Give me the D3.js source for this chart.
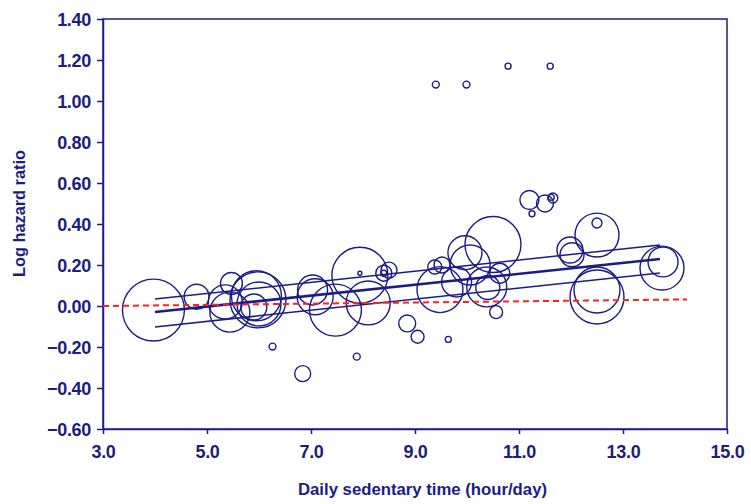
<!DOCTYPE html>
<html>
<head>
<meta charset="utf-8">
<script src="https://cdn.jsdelivr.net/npm/d3@7"></script>
<style>
  body { margin: 0; background: #fff; }
  text { font-family: "Liberation Sans", Arial, sans-serif; font-weight: bold; fill: #1c1c84; }
</style>
</head>
<body>
<svg id="chart" width="751" height="504"></svg>
<script>
// studies: sedentary hours, log HR, weight
const hours = [3.97, 4.80, 5.44, 5.47, 5.98, 5.95, 6.00, 5.90, 5.35, 6.26, 6.84, 7.03, 7.08, 7.47, 7.94, 8.10,
  8.40, 8.50, 8.40, 7.94, 7.88, 8.85, 9.05, 9.64, 10.56, 9.40, 9.99, 10.79, 11.60, 9.48, 10.50, 9.96,
  10.06, 10.38, 10.63, 10.40, 9.52, 9.80, 11.20, 11.50, 11.65, 11.62, 11.25, 12.50, 12.50, 11.98, 12.02,
  12.50, 12.50, 13.75, 13.77, 9.38];
const logHR = [-0.02, 0.045, -0.03, 0.11, 0.03, 0.05, 0.01, -0.005, 0.02, -0.198, -0.33, 0.078, 0.045, -0.02, 0.15, 0.015,
  0.16, 0.175, 0.16, 0.16, -0.247, -0.085, -0.15, -0.163, -0.03, 1.08, 1.08, 1.17, 1.17, 0.08, 0.30, 0.26,
  0.20, 0.093, 0.16, 0.09, 0.20, 0.117, 0.517, 0.50, 0.527, 0.53, 0.45, 0.346, 0.405, 0.273, 0.25,
  0.078, 0.044, 0.185, 0.215, 0.19];
const weights = [960, 156, 400, 121, 784, 625, 484, 169, 289, 12, 64, 225, 324, 676, 784, 484,
  64, 64, 9, 4, 12, 72, 42, 9, 42, 12, 12, 9, 9, 529, 784, 289,
  400, 400, 100, 144, 64, 225, 90, 72, 25, 9, 9, 484, 25, 169, 144,
  529, 729, 484, 225, 49];

// meta-regression line and its bounds: [x0, y0, x1, y1]
const fitLine = [4.0, -0.029, 13.71, 0.229];
const upperLine = [4.0, 0.034, 13.71, 0.298];
const lowerLine = [4.0, -0.102, 13.71, 0.161];
const nullLine = [3.0, 0.0, 14.23, 0.032];

const xTicks = [3, 5, 7, 9, 11, 13, 15];
const yTicks = [-0.6, -0.4, -0.2, 0, 0.2, 0.4, 0.6, 0.8, 1.0, 1.2, 1.4];

const navy = "#1c1c84";
const svg = d3.select("#chart");
const plot = {left: 103, right: 727, top: 19, bottom: 429};

const x = d3.scaleLinear().domain([3, 15]).range([plot.left, plot.right]);
const y = d3.scaleLinear().domain([-0.6, 1.4]).range([plot.bottom, plot.top]);
const r = d3.scaleSqrt().domain([0, 1000]).range([0, 31.6]);

// plot frame
svg.append("rect")
  .attr("x", plot.left).attr("y", plot.top)
  .attr("width", plot.right - plot.left).attr("height", plot.bottom - plot.top)
  .attr("fill", "none").attr("stroke", navy).attr("stroke-width", 1.5);

const xAxis = svg.append("g")
  .attr("transform", `translate(0,${plot.bottom})`)
  .call(d3.axisBottom(x).tickValues(xTicks).tickFormat(d3.format(".1f")).tickSize(5).tickSizeOuter(0));
const yAxis = svg.append("g")
  .attr("transform", `translate(${plot.left},0)`)
  .call(d3.axisLeft(y).tickValues(yTicks).tickFormat(d3.format(".2f")).tickSize(6).tickSizeOuter(0));

[xAxis, yAxis].forEach(g => {
  g.select(".domain").attr("stroke", navy).attr("stroke-width", 1.5);
  g.selectAll(".tick line").attr("stroke", navy).attr("stroke-width", 1.5);
  g.selectAll(".tick text").attr("fill", navy)
    .style("font-size", "18px").style("font-weight", "bold")
    .style("font-family", "'Liberation Sans', Arial, sans-serif")
    .style("letter-spacing", "-0.3px");
});
xAxis.selectAll(".tick text").attr("y", 12).attr("dy", "0.95em");
yAxis.selectAll(".tick text").attr("x", -12).attr("dy", "0.36em");

// bubbles
const studies = hours.map((h, i) => ({h: h, v: logHR[i], w: weights[i]}));
svg.append("g").selectAll("circle")
  .data(studies)
  .enter().append("circle")
  .attr("cx", d => x(d.h))
  .attr("cy", d => y(d.v))
  .attr("r", d => r(d.w))
  .attr("fill", "none")
  .attr("stroke", navy)
  .attr("stroke-width", 1.4);

function drawLine(l, width, color, dash) {
  svg.append("line")
    .attr("x1", x(l[0])).attr("y1", y(l[1]))
    .attr("x2", x(l[2])).attr("y2", y(l[3]))
    .attr("stroke", color).attr("stroke-width", width)
    .attr("stroke-dasharray", dash || null);
}
drawLine(upperLine, 1.5, navy);
drawLine(lowerLine, 1.5, navy);
drawLine(fitLine, 2.6, navy);
drawLine(nullLine, 2, "#ff2020", "6,4");

// axis titles
svg.append("text")
  .attr("x", 298).attr("y", 495)
  .attr("textLength", 249).attr("lengthAdjust", "spacingAndGlyphs")
  .style("font-size", "16px")
  .text("Daily sedentary time (hour/day)");
svg.append("text")
  .attr("transform", "translate(25,277) rotate(-90)")
  .attr("textLength", 127).attr("lengthAdjust", "spacingAndGlyphs")
  .style("font-size", "16px")
  .text("Log hazard ratio");
</script>
</body>
</html>
